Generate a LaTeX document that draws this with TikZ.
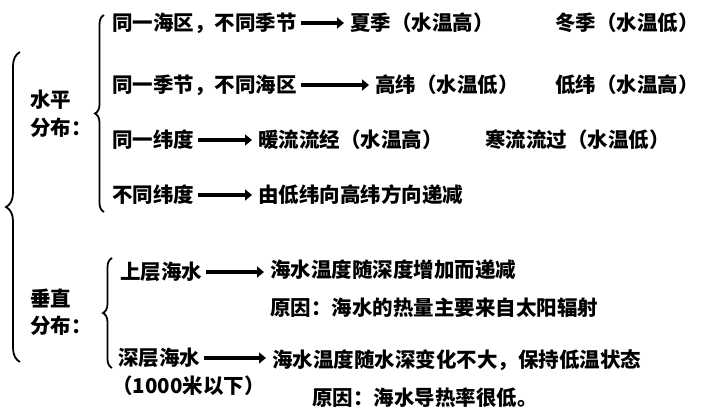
\documentclass[tikz,border=0pt]{standalone}
\usepackage{fontspec}
\setmainfont{Noto Sans CJK SC}
\usetikzlibrary{arrows.meta,decorations.pathreplacing}

\tikzset{
  txt/.style = {anchor = west, inner sep = 0pt, font = \fontsize{20.5}{22}\selectfont\bfseries},
  fat/.style = {line width = 3.5pt, -{Triangle[length=7pt,width=11pt]}},
  brc/.style = {line width = 1.8pt, decorate, decoration = {brace, amplitude = 9pt, mirror}}
}

\begin{document}
\begin{tikzpicture}[x = 1pt, y = -1pt]
	\useasboundingbox (0,0) rectangle (717,420);
	% braces
	\draw[brc, decoration = {amplitude = 14pt}] (20,52) -- (20,362);
	\draw[brc] (104,15) -- (104,212);
	\draw[brc] (112,258) -- (112,368);
	\node[txt] (SP) at (30,100) {水平};
	\node[txt] (SPF) at (30,128) {分布：};
	\node[txt] (CZ) at (30,298) {垂直};
	\node[txt] (CZF) at (30,326) {分布：};
	% horizontal
	\node[txt] (A1) at (112,23) {同一海区，不同季节};
	\node[txt] (A2) at (350,23) {夏季（水温高）};
	\node[txt] (A3) at (555,23) {冬季（水温低）};
	\node[txt] (B1) at (112,85) {同一季节，不同海区};
	\node[txt] (B2) at (375,85) {高纬（水温低）};
	\node[txt] (B3) at (555,85) {低纬（水温高）};
	\node[txt] (C1) at (112,140) {同一纬度};
	\node[txt] (C2) at (258,140) {暖流流经（水温高）};
	\node[txt] (C3) at (485,140) {寒流流过（水温低）};
	\node[txt] (D1) at (112,195) {不同纬度};
	\node[txt] (D2) at (258,195) {由低纬向高纬方向递减};
	% vertical
	\node[txt] (E1) at (120,272) {上层海水};
	\node[txt] (E2) at (270,270) {海水温度随深度增加而递减};
	\node[txt] (E3) at (270,308) {原因：海水的热量主要来自太阳辐射};
	\node[txt] (F1) at (118,358) {深层海水};
	\node[txt] (F2) at (272,360) {海水温度随水深变化不大，保持低温状态};
	\node[txt] (F3) at (112,386) {（1000米以下）};
	\node[txt] (F4) at (312,398) {原因：海水导热率很低。};
	\foreach \a/\b in {A1/A2, B1/B2, C1/C2, D1/D2, E1/E2, F1/F2}
		\draw[fat] ([xshift=4pt]\a.east) -- ([xshift=-6pt]\a.east -| \b.west);
\end{tikzpicture}
\end{document}
